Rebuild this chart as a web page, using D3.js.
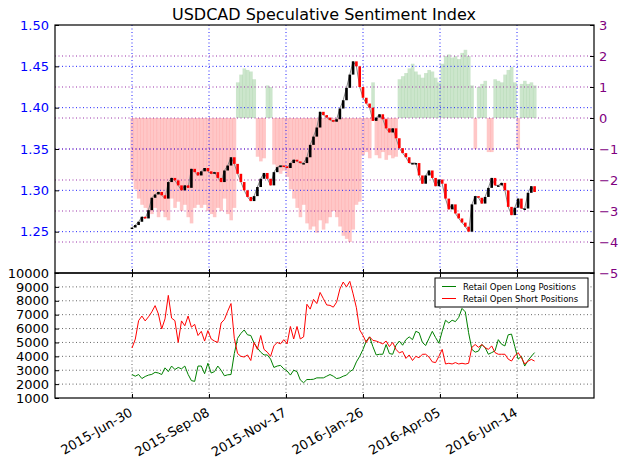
<!DOCTYPE html>
<html><head><meta charset="utf-8">
<script src="https://cdn.jsdelivr.net/npm/d3@7"></script>
<style>body{margin:0;background:#fff}svg{display:block}text{font-family:"DejaVu Sans",sans-serif}</style>
</head><body><svg id="c" width="624" height="466"></svg>
<script>
const title = "USDCAD Speculative Sentiment Index";
const startDate = "2015-06-30";
const stepDays = 3;
const xDomain = ["2015-04-21", "2016-08-23"];
const xTickLabels = ["2015-Jun-30","2015-Sep-08","2015-Nov-17","2016-Jan-26","2016-Apr-05","2016-Jun-14"];
const priceTicks = [1.25,1.30,1.35,1.40,1.45,1.50];
const ssiTicks = [-5,-4,-3,-2,-1,0,1,2,3];
const posTicks = [1000,2000,3000,4000,5000,6000,7000,8000,9000,10000];
const seriesNames = ["Retail Open Long Positions","Retail Open Short Positions"];

const closes = [1.255,1.258,1.262,1.268,1.266,1.276,1.291,1.295,1.298,1.294,
1.290,1.310,1.315,1.312,1.306,1.300,1.306,1.303,1.326,1.322,
1.318,1.323,1.327,1.323,1.320,1.322,1.315,1.310,1.324,1.330,
1.340,1.332,1.320,1.310,1.300,1.292,1.287,1.293,1.304,1.314,
1.321,1.314,1.306,1.322,1.328,1.330,1.329,1.327,1.333,1.337,
1.335,1.333,1.333,1.340,1.355,1.365,1.376,1.395,1.391,1.388,
1.385,1.383,1.386,1.399,1.409,1.424,1.440,1.456,1.450,1.425,
1.412,1.405,1.400,1.384,1.388,1.392,1.386,1.375,1.370,1.375,
1.363,1.351,1.345,1.340,1.333,1.333,1.333,1.318,1.308,1.318,
1.324,1.315,1.305,1.313,1.308,1.290,1.277,1.283,1.272,1.266,
1.261,1.256,1.250,1.283,1.293,1.291,1.284,1.292,1.303,1.315,
1.306,1.306,1.309,1.300,1.280,1.270,1.279,1.290,1.278,1.278,
1.297,1.305,1.298];

const sentiment = [-2.0,-2.3,-2.6,-2.8,-2.9,-3.0,-3.1,-2.9,-3.2,-3.0,
-3.2,-3.3,-2.6,-2.9,-2.7,-3.0,-2.8,-3.2,-3.4,-2.9,
-2.8,-2.9,-2.8,-3.0,-3.1,-3.2,-2.9,-3.0,-2.6,-3.1,
-3.3,-2.9,1.15,1.4,1.6,1.55,1.5,1.25,-1.25,-1.4,
-1.3,1.05,1.0,-1.5,-1.6,-1.8,-1.7,-1.9,-2.3,-2.6,
-2.9,-3.2,-2.8,-3.4,-3.6,-3.5,-3.7,-3.3,-3.6,-3.4,
-3.2,-3.0,-3.2,-3.5,-3.8,-3.9,-4.0,-3.6,-2.8,-2.7,
-1.2,-1.1,-1.3,1.15,-1.2,-1.3,-1.1,-1.35,-1.2,-1.3,
-1.25,1.25,1.35,1.45,1.6,1.75,1.5,1.4,1.3,1.45,
1.55,1.5,1.3,1.15,1.75,2.0,2.05,1.95,2.0,1.9,
2.1,2.2,2.0,1.05,-1.0,1.0,1.1,1.2,-1.1,-1.1,
1.25,1.2,1.15,1.4,1.55,1.65,1.15,-1.0,1.1,1.2,
1.1,1.15,1.05];

const longPositions = [2690,2570,2690,2400,2550,2650,2700,2850,2800,2690,
3170,2900,3300,3050,3200,3100,3300,2700,2250,2200,
3300,3300,2750,3500,2800,2900,3300,3000,2600,2670,
2690,4200,5300,5650,5900,5550,5500,4950,4600,4300,
4100,4100,3800,3200,3300,3350,3100,2950,2650,3000,
2900,2300,2100,2330,2330,2350,2450,2450,2450,2570,
2690,2570,2400,2450,2570,2650,2900,3050,3600,4000,
4500,5100,5400,4700,4100,4150,4150,4850,4200,4150,
4800,5100,4800,5200,5400,5200,5800,5700,5000,4780,
5300,5800,5350,4950,5800,6600,6400,6600,6500,6800,
7450,7200,5700,4500,4300,4380,4850,4630,4150,4270,
4390,5200,4870,4750,5550,5600,4700,3800,4000,3300,
3700,4000,4270];

const shortPositions = [4600,5240,6570,6900,6550,6850,7200,7650,7050,5970,
6700,8390,6750,6570,5000,6550,6200,6900,6100,6300,
5500,5800,5100,5850,5250,5100,5000,6400,6650,7250,
7800,5300,4200,4000,3950,4100,3700,5000,4500,5500,
4500,4300,4000,4750,5000,4900,5200,4900,6150,5250,
6150,5250,5400,7750,7400,8100,7800,8600,8150,7700,
7670,7540,7900,8850,9350,9000,9400,8500,7500,5900,
5500,5000,5400,5150,5100,5000,4900,5100,4700,5000,
4500,4250,4350,3850,4100,3700,4000,3900,4150,4150,
3950,3600,3550,4000,4500,3450,3500,3450,3550,3450,
3500,3450,3500,4650,4850,4650,4850,4630,4500,4750,
4270,4150,4150,4150,3800,3660,4030,4270,3900,3450,
3650,3780,3660];

const L = 55, R = 594, T = 25, M = 273, B = 398;
const svg = d3.select("#c");
const parse = d3.timeParse("%Y-%m-%d");
const dates = closes.map((_, i) => d3.timeDay.offset(parse(startDate), i * stepDays));
const tickDates = xTickLabels.map(d3.timeParse("%Y-%b-%d"));

const x = d3.scaleTime().domain(xDomain.map(parse)).range([L, R]);
const yP = d3.scaleLinear().domain([1.20, 1.50]).range([M, T]);
const yS = d3.scaleLinear().domain([-5, 3]).range([M, T]);
const yV = d3.scaleLinear().domain([1000, 10000]).range([B, M]);

svg.append("rect").attr("width", 624).attr("height", 466).attr("fill", "#fff");

const dash = "1,2.5";
// sentiment bars
const step = x(dates[1]) - x(dates[0]);
svg.append("g").selectAll("rect").data(sentiment).join("rect")
  .attr("x", (d, i) => x(dates[i]) - step / 2)
  .attr("width", step + 0.3)
  .attr("y", d => d >= 0 ? yS(d) : yS(0))
  .attr("height", d => Math.abs(yS(d) - yS(0)))
  .attr("fill", d => d >= 0 ? "rgb(0,128,0)" : "rgb(255,0,0)")
  .attr("fill-opacity", d => d >= 0 ? 0.2 : 0.22);

// grid top
const gTop = svg.append("g");
tickDates.forEach(d => gTop.append("line").attr("x1", x(d)).attr("x2", x(d)).attr("y1", T).attr("y2", M)
  .attr("stroke", "#2020ff").attr("stroke-dasharray", dash));
priceTicks.filter(v => v < 1.5).forEach(v => gTop.append("line").attr("x1", L).attr("x2", R).attr("y1", yP(v)).attr("y2", yP(v))
  .attr("stroke", "#2020ff").attr("stroke-dasharray", dash));
ssiTicks.filter(v => v > -5 && v < 3).forEach(v => gTop.append("line").attr("x1", L).attr("x2", R).attr("y1", yS(v)).attr("y2", yS(v))
  .attr("stroke", "#9a30a8").attr("stroke-dasharray", dash));

// price line + candles
svg.append("path").datum(closes)
  .attr("d", d3.line().x((d, i) => x(dates[i])).y(d => yP(d)))
  .attr("fill", "none").attr("stroke", "#888").attr("stroke-width", 1);
svg.append("g").selectAll("rect").data(closes).join("rect")
  .attr("x", (d, i) => x(dates[i]) - 1.3)
  .attr("width", 2.6)
  .attr("y", (d, i) => yP(Math.max(d, i ? closes[i - 1] : d)))
  .attr("height", (d, i) => Math.max(1.5, Math.abs(yP(d) - yP(i ? closes[i - 1] : d))))
  .attr("fill", (d, i) => (i && d < closes[i - 1]) ? "#ff0000" : "#000");

// bottom grid
const gBot = svg.append("g");
tickDates.forEach(d => gBot.append("line").attr("x1", x(d)).attr("x2", x(d)).attr("y1", M).attr("y2", B)
  .attr("stroke", "#666").attr("stroke-dasharray", dash));
posTicks.filter(v => v > 1000 && v < 10000).forEach(v => gBot.append("line").attr("x1", L).attr("x2", R).attr("y1", yV(v)).attr("y2", yV(v))
  .attr("stroke", "#666").attr("stroke-dasharray", dash));

// position lines
const lineV = d3.line().x((d, i) => x(dates[i])).y(d => yV(d));
svg.append("path").datum(longPositions).attr("d", lineV).attr("fill", "none").attr("stroke", "#008000").attr("stroke-width", 1);
svg.append("path").datum(shortPositions).attr("d", lineV).attr("fill", "none").attr("stroke", "#ff0000").attr("stroke-width", 1);

// frames
[[T, M], [M, B]].forEach(([a, b]) => svg.append("rect").attr("x", L).attr("y", a).attr("width", R - L).attr("height", b - a)
  .attr("fill", "none").attr("stroke", "#000").attr("stroke-width", 1.2));

function styleAxis(g, color, size) {
  g.select(".domain").remove();
  g.selectAll(".tick line").attr("stroke", "#000");
  g.selectAll("text").attr("fill", color).style("font-size", size + "px").style("font-family", "DejaVu Sans");
}
// axes
styleAxis(svg.append("g").attr("transform", `translate(${L},0)`)
  .call(d3.axisLeft(yP).tickValues(priceTicks).tickFormat(d3.format(".2f")).tickSize(-4).tickPadding(6)), "#0000ff", 13);
styleAxis(svg.append("g").attr("transform", `translate(${R},0)`)
  .call(d3.axisRight(yS).tickValues(ssiTicks).tickFormat(d => d < 0 ? "\u2212" + Math.abs(d) : String(d)).tickSize(-4).tickPadding(5)), "#800080", 13);
styleAxis(svg.append("g").attr("transform", `translate(${L},0)`)
  .call(d3.axisLeft(yV).tickValues(posTicks).tickFormat(d3.format("d")).tickSize(-4).tickPadding(6)), "#000", 13);
styleAxis(svg.append("g").attr("transform", `translate(0,${M})`)
  .call(d3.axisBottom(x).tickValues(tickDates).tickFormat("").tickSize(-4)), "#000", 13);
styleAxis(svg.append("g").attr("transform", `translate(0,${M})`)
  .call(d3.axisTop(x).tickValues(tickDates).tickFormat("").tickSize(-4)), "#000", 13);
const xb = svg.append("g").attr("transform", `translate(0,${B})`)
  .call(d3.axisBottom(x).tickValues(tickDates).tickFormat((d, i) => xTickLabels[i]).tickSize(-4));
styleAxis(xb, "#000", 13);
xb.selectAll("text").attr("y", 0).attr("dy", 0).attr("text-anchor", "end")
  .attr("transform", "translate(1,17) rotate(-30)");

// title
svg.append("text").attr("x", 324).attr("y", 20).attr("text-anchor", "middle")
  .style("font-size", "16px").attr("fill", "#000").text(title);

// legend
const lg = svg.append("g");
lg.append("rect").attr("x", 435).attr("y", 278).attr("width", 153).attr("height", 29)
  .attr("fill", "#fff").attr("stroke", "#000").attr("stroke-width", 1);
[["#008000", 0], ["#ff0000", 1]].forEach(([c, i]) => {
  const yy = 286.5 + i * 12;
  lg.append("line").attr("x1", 442).attr("x2", 456).attr("y1", yy).attr("y2", yy).attr("stroke", c);
  lg.append("text").attr("x", 463).attr("y", yy + 3).style("font-size", "8.5px").attr("fill", "#000").text(seriesNames[i]);
});
</script></body></html>
